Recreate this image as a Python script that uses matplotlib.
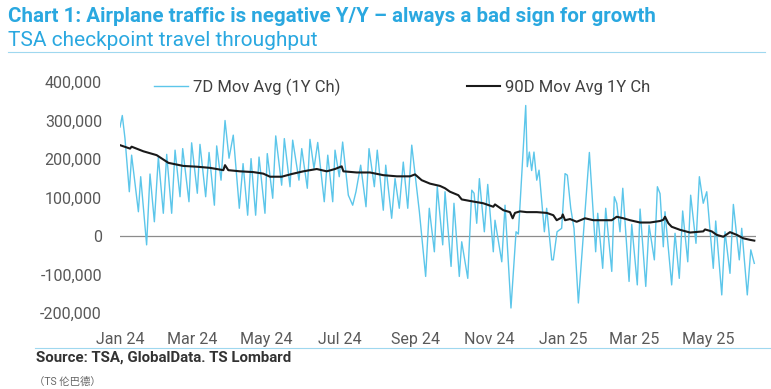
import numpy as np
import matplotlib
matplotlib.use("Agg")
import matplotlib.pyplot as plt
import matplotlib.dates as mdates
from matplotlib.ticker import FuncFormatter

plt.rcParams['font.family'] = ['Roboto', 'Noto Sans CJK SC', 'DejaVu Sans']

# days since 2024-01-01 and values in thousands
days_7d = [0, 1.9, 4.1, 7.7, 9.6, 15.2, 17.1, 22, 24.8, 28.4, 31.7, 35.8, 38.6, 42.7,
           45.5, 49.6, 51.8, 57, 59.2, 63.9, 66.1, 70.8, 73.6, 78, 79.9, 83.5, 86.8,
           90.1, 93.6, 98.6, 101.7, 105.5, 108.3, 112.1, 114.9, 119.8, 121.7, 126.2,
           128.7, 133.6, 135.8, 140.5, 142.7, 147.9, 150.2, 154.8, 157, 160.3, 163.4,
           168.8, 171.7, 175.8, 177.7, 181.2, 184, 188.7, 192.3, 195, 198.9, 203.3,
           205.8, 210.2, 212.6, 217.6, 219.6, 224.5, 227.3, 230.8, 234.1, 237.8, 241.1,
           247.4, 252.6, 255.6, 259.8, 262.2, 266.7, 268.6, 273.6, 276, 280.4, 282.4,
           287.4, 290.7, 292.6, 294.8, 297, 301.1, 303.9, 308.5, 309.9, 315.5, 318.2,
           323.1, 327.3, 329.2, 335.3, 336.6, 338.3, 340.2, 342.1, 344.4, 346.3, 350.7,
           352.6, 356.8, 358.1, 361.2, 365, 367.8, 369.7, 372.5, 375.2, 378.8, 387.9,
           393.1, 394.8, 398.9, 401.4, 406.4, 408.5, 410.5, 413.2, 415.5, 420.7, 422.9,
           427.5, 429.8, 434.5, 437.2, 441.6, 444.1, 446.3, 449, 450.4, 455.9, 458.7,
           462.2, 465, 469.2, 471.6, 476, 478.8, 482, 484.9, 490.3, 492.3, 497.3, 500,
           504.1, 506.9, 511.8, 513.8, 518.4, 521.3, 524.2]
vals_7d = [283, 313, 254, 115, 210, 63, 154, -23, 161, 37, 205, 59, 212, 59,
           223, 102, 227, 89, 242, 111, 238, 102, 217, 80, 234, 145, 300,
           202, 262, 72, 188, 54, 201, 54, 205, 59, 214, 98,
           260, 132, 253, 128, 249, 145, 227, 124, 251, 175, 243,
           89, 210, 89, 223, 154, 244, 106, 80, 115, 184, 76,
           227, 128, 223, 67, 184, 46, 149, 72, 192, 72, 236,
           63, -105, 72, -41, 128, -23, 115, -79, 85, -105, -15,
           -110, 119, 111, 33, 149, 11, 134, -41, 41, -67, 80,
           -187, 11, 5, 339, 180, 218, 170, 218, 145, 171, 11,
           72, -62, -62, 11, 20, 162, 158, 72, 20, -174, 217,
           -41, 59, -84, 72, -92, 102, 85, 11, 124, -118, 30,
           -127, 70, -131, 28, -62, 128, 110, -28, 63, -127, 7,
           -110, 65, -67, 106, -19, 154, 85, 115, -84, 39, -153, 11,
           -97, 82, -62, 20, -153, -36, -71]

days_90d = [0, 8.3, 9.6, 19.3, 30.3, 40, 52.3, 63.4, 74.4, 85.4, 86.8, 89.5, 99.2,
            110.2, 118.4, 124, 133.6, 141.9, 151.5, 162.6, 170.8, 177.7, 183.2, 184.6,
            195.6, 206.6, 217.6, 228.7, 239.7, 243.8, 249.3, 256.2, 264.5, 268.6,
            272.7, 279.6, 282.4, 289.3, 300.2, 308.5, 309.9, 316.8, 322.3, 324.5,
            326.4, 330.6, 336.1, 344.4, 352.6, 358.1, 360.9, 365, 365.9, 367.8, 371.9,
            377.4, 384.3, 391.2, 406.4, 410.5, 416, 421.5, 429.8, 438, 446.3, 449,
            450.4, 453.2, 455.9, 462.8, 471.1, 482, 483.5, 489, 493.1, 498.6, 504.1,
            509.7, 515.1, 520.7, 524.2]
vals_90d = [236, 227, 232, 220, 210, 190, 182, 180, 177, 171, 184, 171, 168,
            166, 162, 154, 154, 161, 168, 174, 168, 174, 181, 168,
            165, 165, 158, 155, 155, 160, 145, 136, 130, 124,
            115, 106, 95, 91, 85, 76, 82, 67, 62, 46,
            60, 64, 62, 62, 60, 54, 41, 48, 56, 41, 44,
            37, 46, 41, 41, 50, 46, 41, 35, 35, 39, 42,
            50, 33, 24, 16, 9, 12, 17, 12, 3, -2, 10,
            3, -6, -10, -12]

y_ticks = [-200, -100, 0, 100, 200, 300, 400]
x_ticks = ['2024-01-01', '2024-03-01', '2024-05-01', '2024-07-01', '2024-09-01',
           '2024-11-01', '2025-01-01', '2025-03-01', '2025-05-01']

start = np.datetime64('2024-01-01T00:00')
def to_dates(d):
    return start + (np.array(d) * 24 * 60).astype('timedelta64[m]')

blue = '#5cc6ea'
title_blue = '#2aa8e0'
grey = '#595959'

fig = plt.figure(figsize=(7.71, 3.89), dpi=100)
fig.patch.set_facecolor('white')
ax = fig.add_axes([120 / 771, 1 - 313 / 389, 636 / 771, 231 / 389])

ax.axhline(0, color='#8c8c8c', lw=0.9, zorder=1)
ax.plot(to_dates(days_7d), vals_7d, color=blue, lw=1.0, label='7D Mov Avg (1Y Ch)', zorder=2)
ax.plot(to_dates(days_90d), vals_90d, color='#1a1a1a', lw=1.5, label='90D Mov Avg 1Y Ch', zorder=3)

ax.set_ylim(-200, 400)
ax.set_xlim(start, start + np.timedelta64(int(525.6 * 24 * 60), 'm'))
ax.set_yticks(y_ticks)
ax.yaxis.set_major_formatter(FuncFormatter(lambda v, p: f"{int(v * 1000):,}"))
ax.set_xticks([np.datetime64(t) for t in x_ticks])
ax.xaxis.set_major_formatter(mdates.DateFormatter('%b %y'))
ax.tick_params(length=0, labelsize=11.5, labelcolor=grey)
ax.tick_params(axis='y', pad=13)
ax.tick_params(axis='x', pad=14)
for s in ax.spines.values():
    s.set_visible(False)
ax.set_facecolor('none')

leg = ax.legend(loc='upper center', ncol=2, frameon=False, fontsize=12,
                bbox_to_anchor=(0.444, 1.08), columnspacing=7.6, handlelength=2.0,
                handletextpad=0.3)
for t in leg.get_texts():
    t.set_color('#404040')

fig.text(8 / 771, 1 - 17 / 389, 'Chart 1: Airplane traffic is negative Y/Y – always a bad sign for growth',
         color=title_blue, fontsize=14.8, fontweight='bold', va='center', ha='left')
fig.text(8 / 771, 1 - 41 / 389, 'TSA checkpoint travel throughput',
         color=title_blue, fontsize=15, va='center', ha='left')
fig.add_artist(plt.Line2D([8 / 771, 765 / 771], [1 - 52 / 389] * 2, color='#9fd8ef', lw=0.8))
fig.add_artist(plt.Line2D([35 / 771, 770 / 771], [1 - 348 / 389] * 2, color='#9fd8ef', lw=0.8))
fig.text(36 / 771, 1 - 358 / 389, 'Source: TSA, GlobalData. TS Lombard',
         color='#333333', fontsize=10.8, fontweight='bold', va='center', ha='left')
fig.text(34 / 771, 1 - 382 / 389, '（TS 伦巴德）', color='#666666', fontsize=7.5,
         va='center', ha='left')

fig.savefig('out.png', dpi=100, facecolor='white')
